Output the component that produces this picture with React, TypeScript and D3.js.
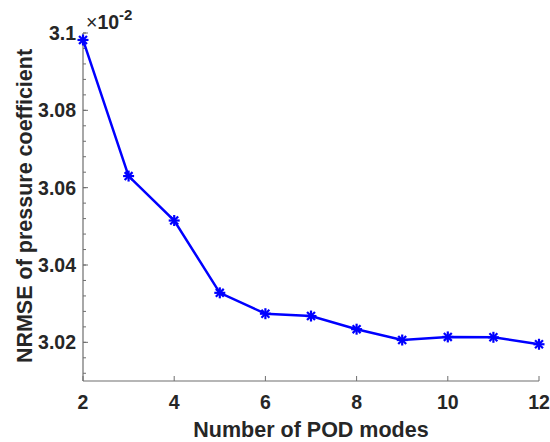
import React from "react";
import * as d3 from "d3";

const modes = [2, 3, 4, 5, 6, 7, 8, 9, 10, 11, 12];
const nrmse = [3.0982, 3.063, 3.0515, 3.0328, 3.0274, 3.0268, 3.0234, 3.0206, 3.0214, 3.0213, 3.0195];
const xTicks = [2, 4, 6, 8, 10, 12];
const yTicks = [3.02, 3.04, 3.06, 3.08, 3.1];
const yTickLabels = ["3.02", "3.04", "3.06", "3.08", "3.1"];

const W = 550, H = 442;
const left = 83, right = 539, top = 33, bottom = 381;

export default function App() {
  const x = d3.scaleLinear().domain([2, 12]).range([left, right]);
  const y = d3.scaleLinear().domain([3.01, 3.1]).range([bottom, top]);
  const minor = d3.range(0, 23).map((i) => 3.012 + i * 0.004).filter((v) => v <= 3.1 + 1e-9);
  const line = d3.line<number>().x((_, i) => x(modes[i])).y((d) => y(d));
  const font = "'Liberation Sans', Arial, Helvetica, sans-serif";
  const axisColor = "#6e6e6e";
  const textColor = "#262626";
  const m = 5.5;
  return (
    <svg width={W} height={H} style={{ position: "absolute", left: 0, top: 0 }} fontFamily={font}>
      <rect width={W} height={H} fill="#fff" />
      <line x1={left} x2={left} y1={top} y2={bottom} stroke={axisColor} strokeWidth={1.2} />
      <line x1={left} x2={right} y1={bottom} y2={bottom} stroke={axisColor} strokeWidth={1.2} />
      {minor.map((v, i) => (
        <line key={"mn" + i} x1={left} x2={left + 3} y1={y(v)} y2={y(v)} stroke={axisColor} strokeWidth={1} />
      ))}
      {yTicks.map((v, i) => (
        <g key={"yt" + i}>
          <line x1={left} x2={left + 5} y1={y(v)} y2={y(v)} stroke={axisColor} strokeWidth={1} />
          <text x={left - 7} y={y(v)} dy="0.36em" textAnchor="end" fontSize={19.5} fontWeight="bold" fill={textColor}>
            {yTickLabels[i]}
          </text>
        </g>
      ))}
      {xTicks.map((v) => (
        <g key={"xt" + v}>
          <line x1={x(v)} x2={x(v)} y1={bottom} y2={bottom - 5} stroke={axisColor} strokeWidth={1} />
          <text x={x(v)} y={bottom + 28} textAnchor="middle" fontSize={19.5} fontWeight="bold" fill={textColor}>
            {v}
          </text>
        </g>
      ))}
      <text x={x(7)} y={437} textAnchor="middle" fontSize={21.5} fontWeight="bold" fill={textColor}>
        Number of POD modes
      </text>
      <text transform={`translate(32, 206) rotate(-90)`} textAnchor="middle" fontSize={21.5} fontWeight="bold" fill={textColor}>
        NRMSE of pressure coefficient
      </text>
      <text x={86} y={29} fontSize={19.5} fill={textColor}>
        <tspan>×</tspan>
        <tspan fontWeight="bold">10</tspan>
        <tspan fontWeight="bold" fontSize={15} dy={-9}>-2</tspan>
      </text>
      <path d={line(nrmse) || ""} fill="none" stroke="#0000ff" strokeWidth={2.5} />
      {nrmse.map((v, i) => {
        const cx = x(modes[i]);
        const cy = y(v);
        return (
          <g key={"mk" + i} stroke="#0000ff" strokeWidth={2.2}>
            <line x1={cx - m} x2={cx + m} y1={cy} y2={cy} />
            <line x1={cx} x2={cx} y1={cy - m} y2={cy + m} />
            <line x1={cx - m * 0.72} x2={cx + m * 0.72} y1={cy - m * 0.72} y2={cy + m * 0.72} />
            <line x1={cx - m * 0.72} x2={cx + m * 0.72} y1={cy + m * 0.72} y2={cy - m * 0.72} />
          </g>
        );
      })}
    </svg>
  );
}
